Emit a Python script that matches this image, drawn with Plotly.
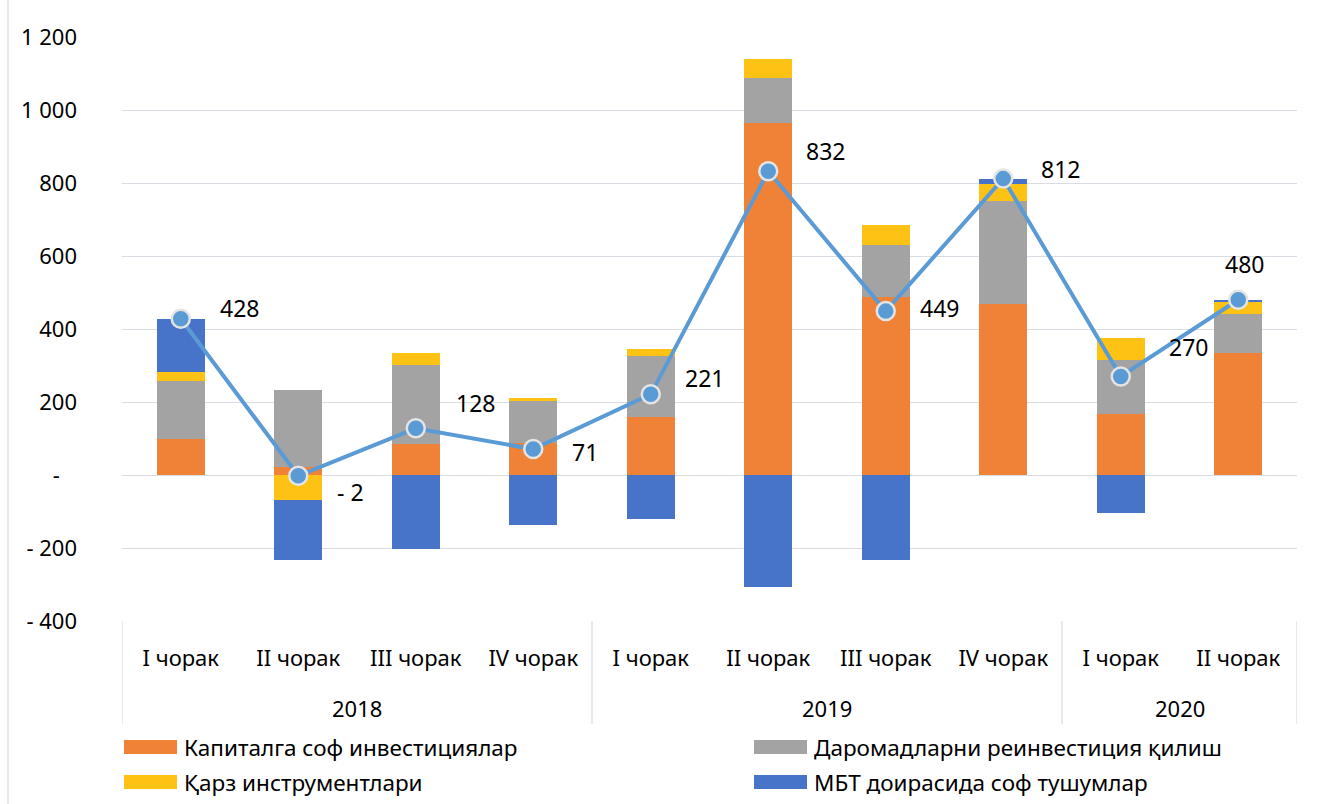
import plotly.graph_objects as go

# ---------------- data ----------------
years = ["2018", "2019", "2020"]
quarters = ["I чорак", "II чорак", "III чорак", "IV чорак",
            "I чорак", "II чорак", "III чорак", "IV чорак",
            "I чорак", "II чорак"]
year_spans = [4, 4, 2]

series_names = ["Капиталга соф инвестициялар", "Даромадларни реинвестиция қилиш",
                "Қарз инструментлари", "МБТ доирасида соф тушумлар"]
capital = [98, 22, 85, 88, 159, 965, 488, 468, 167, 334]
reinvest = [159, 210, 216, 117, 166, 124, 142, 284, 148, 106]
debt = [25, -68, 33, 5, 20, 51, 56, 46, 60, 36]
ibt = [146, -164, -202, -137, -120, -306, -232, 14, -104, 4]
total = [428, -2, 128, 71, 221, 832, 449, 812, 270, 480]

y_ticks = [-400, -200, 0, 200, 400, 600, 800, 1000, 1200]
y_ticktext = ["- 400", "- 200", "-\u00a0\u00a0\u00a0", "200", "400", "600", "800", "1 000", "1 200"]

# ---------------- style ----------------
FONT = "Noto Sans"
colors = ["#EF8236", "#A3A3A3", "#FDC214", "#4773C8"]
line_color = "#5B9BD5"

W, H = 1320, 804
L, R, T, B = 122, 23, 37, 183
PW, PH = W - L - R, H - T - B

def px_x(p):
    return (p - L) / PW

def px_y(p):
    return (H - B - p) / PH

x = list(range(len(quarters)))
fig = go.Figure()
for name, vals, col in zip(series_names, [capital, reinvest, debt, ibt], colors):
    fig.add_trace(go.Bar(x=x, y=vals, name=name, marker=dict(color=col, line=dict(width=0)),
                         width=0.41, showlegend=False))

fig.add_trace(go.Scatter(x=x, y=total, mode="lines+markers", name="Жами",
                         line=dict(color=line_color, width=4),
                         marker=dict(size=18, color=line_color, line=dict(color="#E4E4E4", width=2.5)),
                         showlegend=False))

# data labels (offsets in px relative to the point)
offsets = [(59, 11), (52, -16), (60, 25), (52, -3), (54, 16),
           (57, 20), (54, 3), (57, 10), (68, 29), (6, 36)]
annotations = []
for xi, v, (dx, dy) in zip(x, total, offsets):
    txt = f"- {abs(v)}" if v < 0 else f"{v}"
    annotations.append(dict(x=xi, y=v, xref="x", yref="y", text=txt, showarrow=False,
                            xanchor="center", yanchor="middle",
                            xshift=dx, yshift=dy, font=dict(family=FONT, size=23, color="#000000")))

# year labels and category box
shapes = []
start = 0
bounds = [-0.5]
for yr, span in zip(years, year_spans):
    center = start + (span - 1) / 2
    annotations.append(dict(x=center, y=px_y(708), xref="x", yref="paper", text=yr, showarrow=False,
                            xanchor="center", yanchor="middle",
                            font=dict(family=FONT, size=22, color="#000000")))
    start += span
    bounds.append(start - 0.5)
for bx in bounds:
    shapes.append(dict(type="line", xref="x", yref="paper", x0=bx, x1=bx, y0=0, y1=px_y(724),
                       line=dict(color="#D9DDE3", width=1.3)))

# chart frame left edge
shapes.append(dict(type="line", xref="paper", yref="paper", x0=px_x(8), x1=px_x(8),
                   y0=px_y(0), y1=px_y(804), line=dict(color="#D9DDE3", width=1.3)))

# manual legend
legend_pos = [(124, 747), (754, 747), (124, 782), (754, 782)]
leg_order = [0, 1, 2, 3]
for (lx, ly), i in zip(legend_pos, leg_order):
    shapes.append(dict(type="rect", xref="paper", yref="paper",
                       x0=px_x(lx), x1=px_x(lx + 53), y0=px_y(ly - 7), y1=px_y(ly + 7),
                       fillcolor=colors[i], line=dict(width=0)))
    annotations.append(dict(x=px_x(lx + 58), y=px_y(ly), xref="paper", yref="paper",
                            text=series_names[i], showarrow=False, xanchor="left", yanchor="middle",
                            font=dict(family=FONT, size=22.5, color="#000000")))

fig.update_layout(
    width=W, height=H,
    margin=dict(l=L, r=R, t=T, b=B, pad=0),
    paper_bgcolor="white", plot_bgcolor="white",
    barmode="relative", bargap=0,
    showlegend=False,
    font=dict(family=FONT, size=22, color="#000000"),
    annotations=annotations, shapes=shapes,
    xaxis=dict(range=[-0.5, 9.5], tickvals=x, ticktext=quarters, showgrid=False,
               zeroline=False, showline=False, ticks="", ticklabelstandoff=22,
               tickfont=dict(family=FONT, size=22, color="#000000")),
    yaxis=dict(range=[-400, 1200], tickvals=y_ticks, ticktext=y_ticktext,
               showgrid=True, gridcolor="#D9DDE3", gridwidth=1.3,
               zeroline=False, showline=False, ticks="", ticklabelstandoff=44,
               tickfont=dict(family=FONT, size=22, color="#000000")),
)

fig.write_html("out.html", config={"displayModeBar": False},
               post_script="document.body.style.margin='0';")
